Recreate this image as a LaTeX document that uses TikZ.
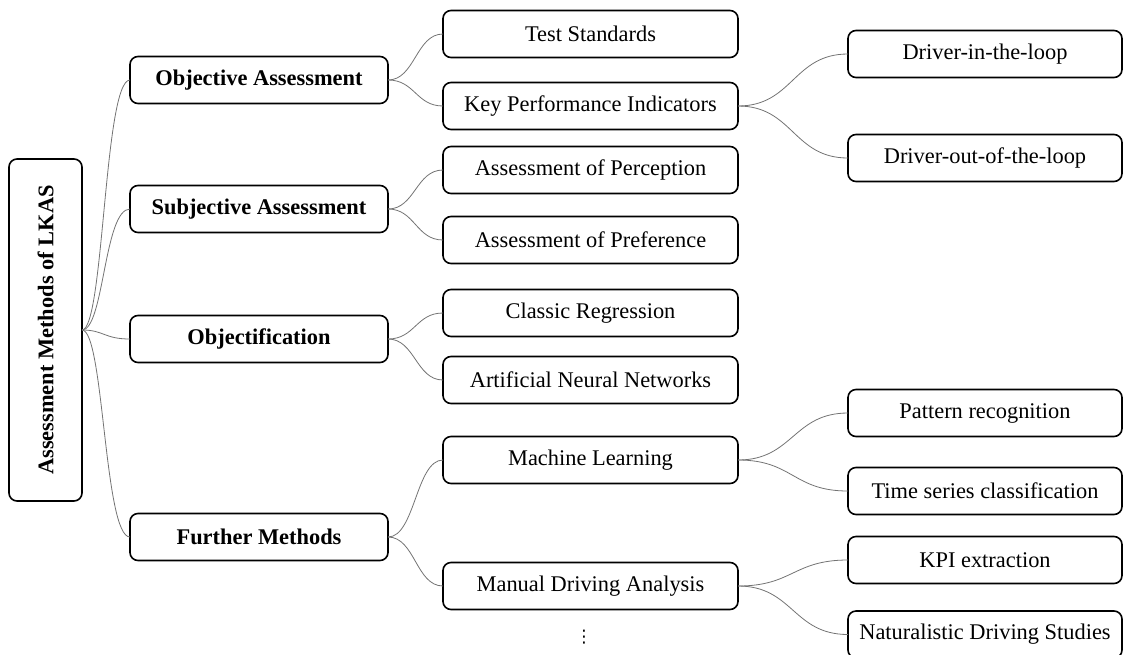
\documentclass[tikz,border=0pt]{standalone}
\usepackage{fontspec}
\setmainfont{Liberation Serif}
\newfontfamily\symfont{DejaVu Sans}
\begin{document}
\begin{tikzpicture}[x=0.75pt,y=-0.75pt]

\tikzset{box/.style={draw=black, line width=1.2pt, rounded corners=6pt, inner sep=0pt, outer sep=0pt,
  minimum height=35.25pt, font=\fontsize{16.8}{20}\selectfont},
%the three levels only differ in width
lvlone/.style={box, minimum width=193.5pt, font=\fontsize{16.8}{20}\selectfont\bfseries},
lvltwo/.style={box, minimum width=221.25pt},
lvlthree/.style={box, minimum width=205.5pt},
link/.style={black!55!white, line width=0.6pt}}

\useasboundingbox (0,0) rectangle (1124,654);

\begin{scope}

\clip (0,0) rectangle (1124,654);

\node [box, rotate=90, minimum width=256.5pt, minimum height=54.75pt, font=\fontsize{16.8}{20}\selectfont\bfseries] (root) at (45.5,330) {Assessment Methods of LKAS};

\node [lvlone] (obj) at (259,80) {Objective Assessment};
\node [lvlone] (subj) at (259,209) {Subjective Assessment};
\node [lvlone] (objf) at (259,339) {Objectification};
\node [lvlone] (further) at (259,537) {Further Methods};

\node [lvltwo] (test) at (590.5,34) {Test Standards};
\node [lvltwo] (kpi) at (590.5,106) {Key Performance Indicators};
\node [lvltwo] (perc) at (590.5,170) {Assessment of Perception};
\node [lvltwo] (pref) at (590.5,240) {Assessment of Preference};
\node [lvltwo] (regr) at (590.5,313) {Classic Regression};
\node [lvltwo] (ann) at (590.5,380) {Artificial Neural Networks};
\node [lvltwo] (ml) at (590.5,460) {Machine Learning};
\node [lvltwo] (manual) at (590.5,586) {Manual Driving Analysis};

\node [lvlthree] (dil) at (985,54) {Driver-in-the-loop};
\node [lvlthree] (dol) at (985,158) {Driver-out-of-the-loop};
\node [lvlthree] (pattern) at (985,413) {Pattern recognition};
\node [lvlthree] (tsc) at (985,491) {Time series classification};
\node [lvlthree] (kpiex) at (985,560) {KPI extraction};
\node [lvlthree] (nds) at (985,634.5) {Naturalistic Driving Studies};

\node [font=\fontsize{13}{15}\selectfont\symfont] (more) at (584,637) {⋮};

\foreach \a in {obj,subj,objf,further}
  \draw [link] (root.south) .. controls +(22,0) and +(-26,0) .. (\a.west);

\foreach \a/\b in {obj/test,obj/kpi,subj/perc,subj/pref,objf/regr,objf/ann,further/ml,further/manual}
  \draw [link] (\a.east) .. controls +(27,0) and +(-27,0) .. (\b.west);

\foreach \a/\b in {kpi/dil,kpi/dol,ml/pattern,ml/tsc,manual/kpiex,manual/nds}
  \draw [link] (\a.east) .. controls +(55,0) and +(-55,0) .. (\b.west);

\end{scope}

\end{tikzpicture}
\end{document}
